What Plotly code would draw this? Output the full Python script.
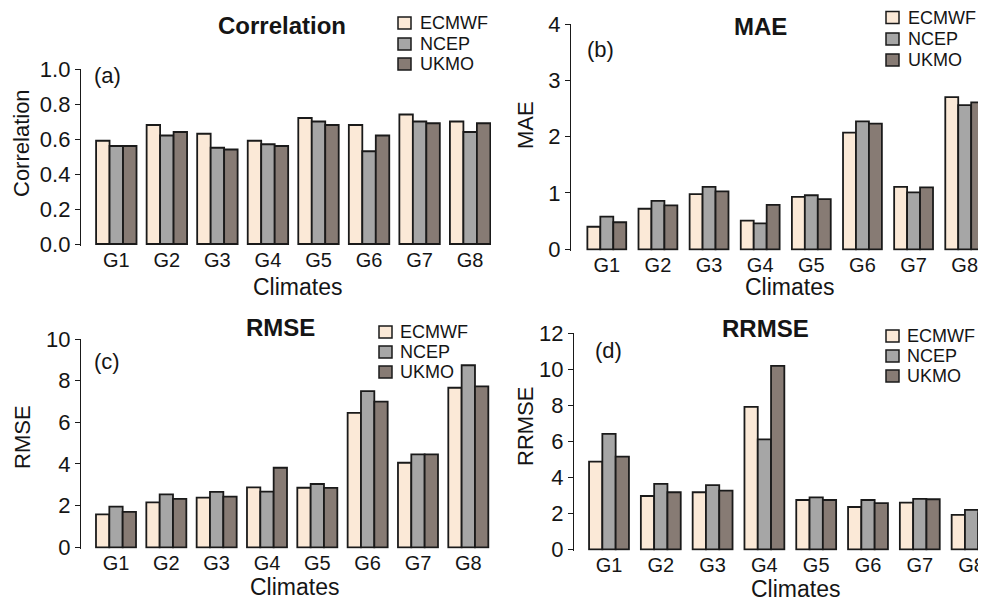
import plotly.graph_objects as go

# page body has an 8px margin: figure is sized to fill the rest of the window
OFF = 8
W, H = 986 - OFF, 601 - OFF

climates = ["G1", "G2", "G3", "G4", "G5", "G6", "G7", "G8"]
models = ["ECMWF", "NCEP", "UKMO"]
colors = ["#FBE9D7", "#A6A6A6", "#877B74"]

corr_ecmwf = [0.59, 0.68, 0.63, 0.59, 0.72, 0.68, 0.74, 0.70]
corr_ncep = [0.56, 0.62, 0.55, 0.57, 0.70, 0.53, 0.70, 0.64]
corr_ukmo = [0.56, 0.64, 0.54, 0.56, 0.68, 0.62, 0.69, 0.69]

mae_ecmwf = [0.40, 0.72, 0.98, 0.51, 0.93, 2.07, 1.11, 2.70]
mae_ncep = [0.58, 0.86, 1.11, 0.46, 0.96, 2.27, 1.01, 2.56]
mae_ukmo = [0.48, 0.78, 1.03, 0.79, 0.89, 2.23, 1.10, 2.61]

rmse_ecmwf = [1.58, 2.16, 2.38, 2.88, 2.86, 6.45, 4.06, 7.66]
rmse_ncep = [1.95, 2.54, 2.66, 2.67, 3.04, 7.50, 4.46, 8.74]
rmse_ukmo = [1.70, 2.32, 2.43, 3.82, 2.85, 6.99, 4.46, 7.73]

rrmse_ecmwf = [4.87, 2.96, 3.17, 7.91, 2.74, 2.35, 2.59, 1.91]
rrmse_ncep = [6.41, 3.63, 3.56, 6.11, 2.89, 2.74, 2.80, 2.19]
rrmse_ukmo = [5.15, 3.17, 3.26, 10.19, 2.74, 2.56, 2.78, 2.00]

titles = ["Correlation", "MAE", "RMSE", "RRMSE"]
panel_tags = ["(a)", "(b)", "(c)", "(d)"]
ytitles = ["Correlation", "MAE", "RMSE", "RRMSE"]
ymax_vals = [1.0, 4, 10, 12]
ydticks = [0.2, 1, 2, 2]
yformats = [".1f", "d", "d", "d"]

series = [
    [corr_ecmwf, corr_ncep, corr_ukmo],
    [mae_ecmwf, mae_ncep, mae_ukmo],
    [rmse_ecmwf, rmse_ncep, rmse_ukmo],
    [rrmse_ecmwf, rrmse_ncep, rrmse_ukmo],
]

# ---- layout geometry (page pixels) ----
FONT = "Liberation Sans, Arial, sans-serif"
TXT = "#151515"
EDGE = "#1a1a1a"
panels = [
    dict(xl=81, xr=491, c1=116.3, sp=50.55, y0=244.0, yt=69.0, gw=0.80,
         title=(282, 25), tag=(107, 76), ytit=(21, 143), xtit=(297, 287),
         leg=(398, 418, [23, 44, 64])),
    dict(xl=571, xr=986, c1=606.8, sp=51.13, y0=249.3, yt=24.0, gw=0.76,
         title=(760, 26), tag=(600, 49), ytit=(526, 125), xtit=(789, 287),
         leg=(886, 906, [17.5, 39, 60])),
    dict(xl=81, xr=491, c1=116.0, sp=50.33, y0=547.3, yt=339.0, gw=0.795,
         title=(280, 327), tag=(107, 361), ytit=(22, 437), xtit=(294, 587),
         leg=(379, 398, [332, 352, 372])),
    dict(xl=574, xr=986, c1=609.0, sp=51.8, y0=549.3, yt=333.3, gw=0.77,
         title=(765, 328), tag=(608, 350), ytit=(525, 427), xtit=(795, 589),
         leg=(886, 905, [336, 356, 376])),
]

def px(x):
    return (x - OFF) / W

def py(y):
    return 1 - (y - OFF) / H

fig = go.Figure()
annotations = []
shapes = []
layout = {}
PADPX = 1.5
BOXW, BOXH = 13, 12

for k, p in enumerate(panels):
    n = k + 1
    xa = "x" if n == 1 else f"x{n}"
    ya = "y" if n == 1 else f"y{n}"
    xkey = "xaxis" if n == 1 else f"xaxis{n}"
    ykey = "yaxis" if n == 1 else f"yaxis{n}"
    ymax = ymax_vals[k]
    unit = (p["y0"] - p["yt"]) / ymax
    pad = PADPX / unit
    gw = p["gw"]
    for i, (m, vals) in enumerate(zip(models, series[k])):
        fig.add_trace(go.Bar(
            x=climates, y=vals, name=m,
            xaxis=xa, yaxis=ya, showlegend=False,
            width=gw / 3, offset=-gw / 2 + i * gw / 3,
            marker=dict(color=colors[i], line=dict(color=EDGE, width=1.8)),
        ))
    layout[xkey] = dict(
        domain=[px(p["xl"]), min(1.0, px(p["xr"]))],
        range=[(p["xl"] - p["c1"]) / p["sp"], (p["xr"] - p["c1"]) / p["sp"]],
        anchor=ya, type="category", showline=False, showgrid=False,
        zeroline=False, ticks="", automargin=False,
        tickfont=dict(size=20, family=FONT, color=TXT),
    )
    layout[ykey] = dict(
        domain=[py(p["y0"] + PADPX), py(p["yt"])],
        range=[-pad, ymax], anchor=xa, showline=True, linecolor=EDGE,
        linewidth=1.3, showgrid=False, zeroline=False, ticks="outside",
        ticklen=5, tickwidth=1.3, tickcolor=EDGE, tick0=0, automargin=False,
        dtick=ydticks[k], tickformat=yformats[k],
        tickfont=dict(size=22, family=FONT, color=TXT),
    )
    # legend (boxes + labels)
    bx, tx, rows = p["leg"]
    for i, m in enumerate(models):
        ry = rows[i]
        shapes.append(dict(
            type="rect", xref="paper", yref="paper",
            x0=px(bx), x1=px(bx + BOXW), y0=py(ry + BOXH / 2), y1=py(ry - BOXH / 2),
            fillcolor=colors[i], line=dict(color=EDGE, width=1.5),
        ))
        annotations.append(dict(
            text=m, x=px(tx), y=py(ry), xref="paper", yref="paper",
            showarrow=False, xanchor="left", yanchor="middle",
            font=dict(size=18, family=FONT, color=TXT),
        ))
    annotations.append(dict(
        text=f"<b>{titles[k]}</b>", x=px(p["title"][0]), y=py(p["title"][1]),
        xref="paper", yref="paper", showarrow=False, xanchor="center", yanchor="middle",
        font=dict(size=24, family=FONT, color=TXT),
    ))
    annotations.append(dict(
        text=panel_tags[k], x=px(p["tag"][0]), y=py(p["tag"][1]),
        xref="paper", yref="paper", showarrow=False, xanchor="center", yanchor="middle",
        font=dict(size=22, family=FONT, color=TXT),
    ))
    annotations.append(dict(
        text=ytitles[k], x=px(p["ytit"][0]), y=py(p["ytit"][1]), textangle=-90,
        xref="paper", yref="paper", showarrow=False, xanchor="center", yanchor="middle",
        font=dict(size=22, family=FONT, color=TXT),
    ))
    annotations.append(dict(
        text="Climates", x=px(p["xtit"][0]), y=py(p["xtit"][1]),
        xref="paper", yref="paper", showarrow=False, xanchor="center", yanchor="middle",
        font=dict(size=23, family=FONT, color=TXT),
    ))

fig.update_layout(
    template="none",
    width=W, height=H, margin=dict(l=0, r=0, t=0, b=0, autoexpand=False),
    paper_bgcolor="white", plot_bgcolor="white",
    barmode="overlay", showlegend=False,
    annotations=annotations, shapes=shapes,
    font=dict(family=FONT, color=TXT),
    **layout,
)

fig.write_html("out.html")
